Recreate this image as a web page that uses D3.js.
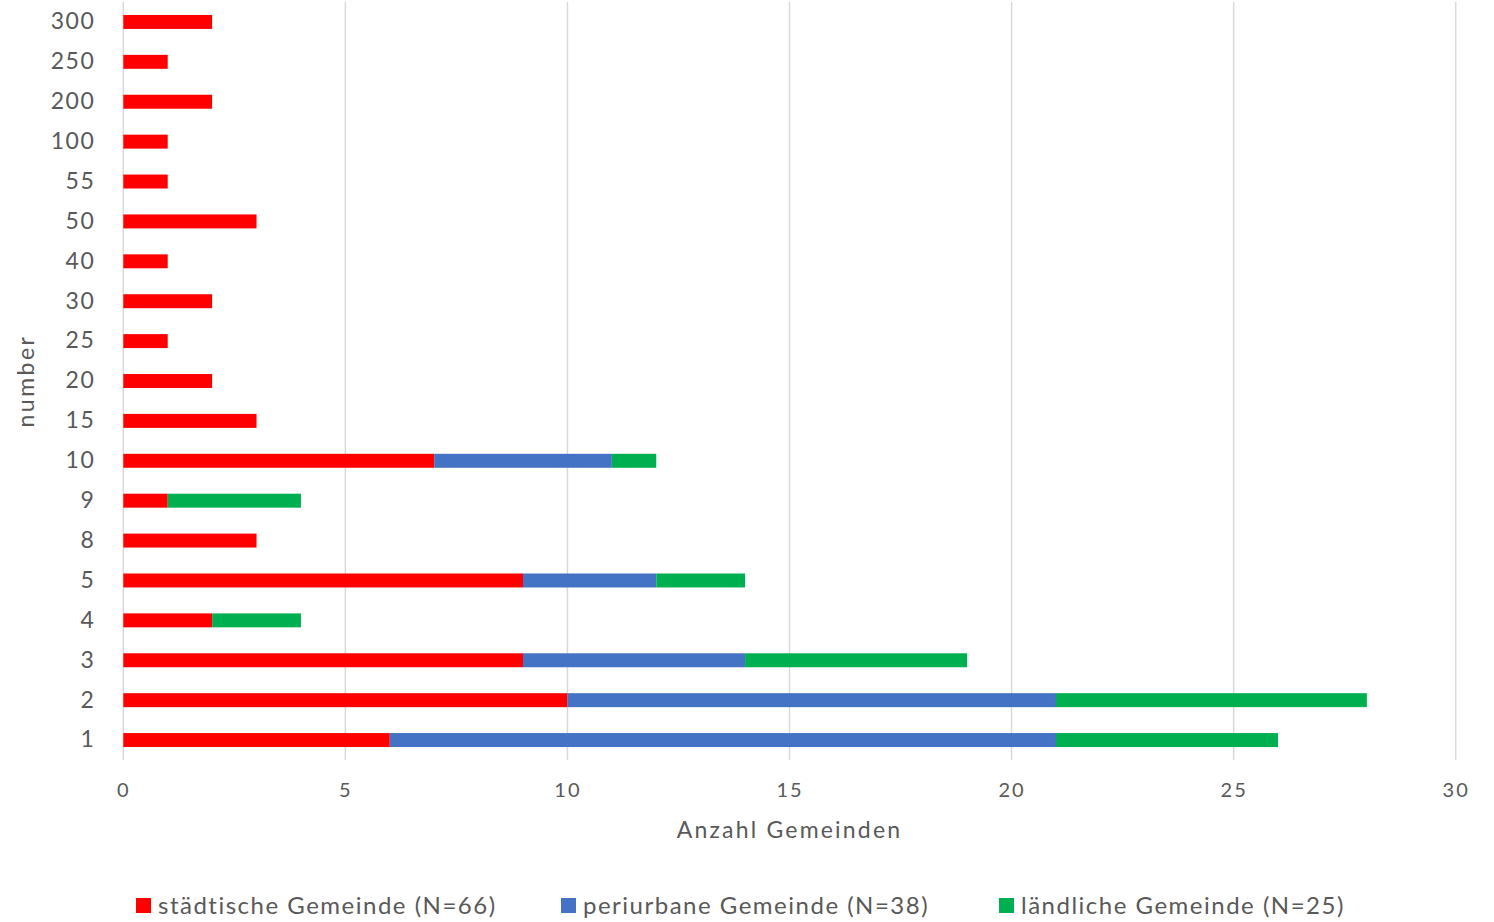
<!DOCTYPE html>
<html>
<head>
<meta charset="utf-8">
<script src="https://cdn.jsdelivr.net/npm/d3@7/dist/d3.min.js"></script>
<style>
  body { margin: 0; background: #fff; }
  text { font-family: Lato, "Open Sans", sans-serif; fill: #595959; }
</style>
</head>
<body>
<script>
// categories, top to bottom
var categories = ["300","250","200","100","55","50","40","30","25","20","15","10","9","8","5","4","3","2","1"];
var staedtisch = [2,1,2,1,1,3,1,2,1,2,3,7,1,3,9,2,9,10,6];
var periurban  = [0,0,0,0,0,0,0,0,0,0,0,4,0,0,3,0,5,11,15];
var laendlich  = [0,0,0,0,0,0,0,0,0,0,0,1,3,0,2,2,5,7,5];
var seriesNames = ["städtische Gemeinde (N=66)", "periurbane Gemeinde (N=38)", "ländliche Gemeinde (N=25)"];
var seriesColors = ["#FF0000", "#4472C4", "#00B050"];
var xTicks = [0,5,10,15,20,25,30];

var width = 1494, height = 922;
var margin = {top: 2, left: 123.3, right: 38.3, bottom: 162};

var svg = d3.select("body").append("svg")
    .attr("width", width)
    .attr("height", height);

var x = d3.scaleLinear().domain([0, 30]).range([margin.left, width - margin.right]);
var y = d3.scaleBand().domain(categories).range([margin.top, height - margin.bottom]).paddingInner(0.65).paddingOuter(0.325);

// gridlines
svg.append("g").selectAll("line")
    .data(xTicks)
    .enter().append("line")
    .attr("x1", function(d){ return x(d); })
    .attr("x2", function(d){ return x(d); })
    .attr("y1", margin.top)
    .attr("y2", height - margin.bottom)
    .style("stroke", "#D9D9D9")
    .style("stroke-width", 1.5);

// stacked data
var rows = categories.map(function(c, i){
    return {cat: c, s0: staedtisch[i], s1: periurban[i], s2: laendlich[i]};
});
var stack = d3.stack().keys(["s0","s1","s2"]);
var layers = stack(rows);

svg.append("g").selectAll("g")
    .data(layers)
    .enter().append("g")
    .style("fill", function(d, i){ return seriesColors[i]; })
    .selectAll("rect")
    .data(function(d){ return d; })
    .enter().append("rect")
    .attr("x", function(d){ return x(d[0]); })
    .attr("width", function(d){ return x(d[1]) - x(d[0]); })
    .attr("y", function(d){ return y(d.data.cat); })
    .attr("height", y.bandwidth());

// x axis labels
var xAxis = d3.axisBottom(x).tickValues(xTicks).tickSize(0).tickPadding(0);
var gx = svg.append("g")
    .attr("transform", "translate(0," + (height - margin.bottom + 23) + ")")
    .call(xAxis);
gx.select(".domain").remove();
gx.selectAll("text").style("font-size", "20px").style("letter-spacing", "2px").style("fill", "#595959").attr("dy", "0.71em");

// y axis labels
var yAxis = d3.axisLeft(y).tickSize(0).tickPadding(28);
var gy = svg.append("g")
    .attr("transform", "translate(" + margin.left + ",0)")
    .call(yAxis);
gy.select(".domain").remove();
gy.selectAll("text").style("font-size", "23px").style("letter-spacing", "1.5px").style("fill", "#595959");

// axis titles
svg.append("text")
    .attr("x", (x(0) + x(30)) / 2)
    .attr("y", 838)
    .attr("text-anchor", "middle")
    .style("font-size", "23px")
    .style("letter-spacing", "2.2px")
    .text("Anzahl Gemeinden");

svg.append("text")
    .attr("transform", "translate(34," + ((margin.top + height - margin.bottom) / 2) + ") rotate(-90)")
    .attr("text-anchor", "middle")
    .style("font-size", "23px")
    .style("letter-spacing", "2.5px")
    .text("number");

// legend
var legendX = [136, 561, 999];
var legend = svg.append("g").selectAll("g")
    .data(seriesNames)
    .enter().append("g")
    .attr("transform", function(d, i){ return "translate(" + legendX[i] + ",898)"; });
legend.append("rect")
    .attr("width", 15)
    .attr("height", 15)
    .style("fill", function(d, i){ return seriesColors[i]; });
legend.append("text")
    .attr("x", 22)
    .attr("y", 16)
    .style("font-size", "24px")
    .style("letter-spacing", "1.5px")
    .text(function(d){ return d; });
</script>
</body>
</html>
